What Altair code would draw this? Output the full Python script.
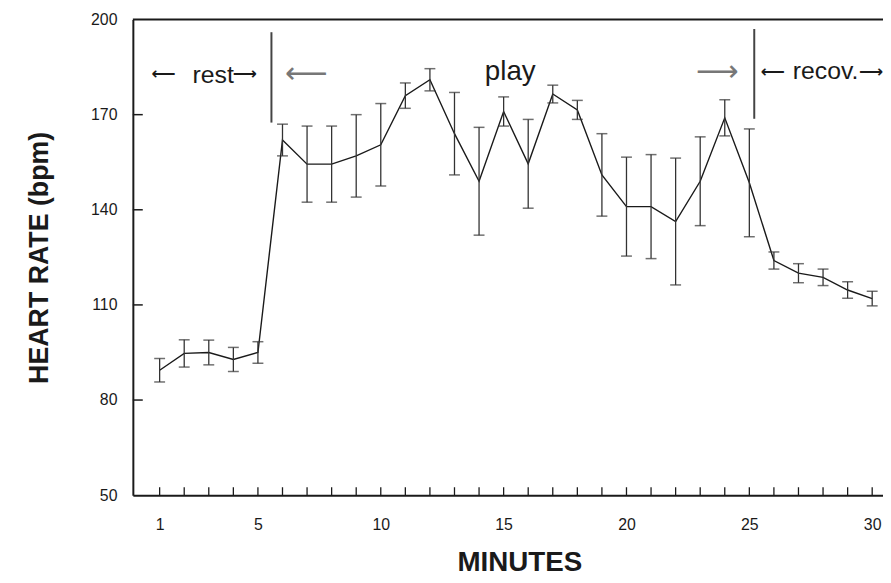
import altair as alt
import pandas as pd

# ---- data ----
minutes = list(range(1, 31))
heart_rate = [89.4, 94.7, 95.0, 92.8, 95.0,
              162.0, 154.4, 154.4, 157.0, 160.5,
              176.0, 181.0, 164.0, 149.0, 171.0,
              154.5, 176.5, 171.5, 151.0, 141.0,
              141.0, 136.3, 149.0, 169.0, 148.5,
              124.0, 120.0, 118.7, 114.7, 112.0]
error = [3.7, 4.3, 3.9, 3.8, 3.4,
         5.0, 12.0, 12.0, 13.0, 13.0,
         4.0, 3.5, 13.0, 17.0, 4.6,
         14.0, 2.8, 3.0, 13.0, 15.6,
         16.4, 20.0, 14.0, 5.7, 17.0,
         2.7, 3.0, 2.6, 2.6, 2.3]
x_labels = [1, 5, 10, 15, 20, 25, 30]
y_ticks = [50, 80, 110, 140, 170, 200]

df = pd.DataFrame({"minute": minutes, "hr": heart_rate, "err": error})
df["lo"] = df["hr"] - df["err"]
df["hi"] = df["hr"] + df["err"]

FONT = "Liberation Sans"
INK = "#1a1a1a"

xscale = alt.Scale(domain=[-0.09, 30.44], nice=False, zero=False)
yscale = alt.Scale(domain=[50, 200], nice=False, zero=False)

base = alt.Chart(df)

line = base.mark_line(color=INK, strokeWidth=1.4).encode(
    x=alt.X("minute:Q", scale=xscale,
            axis=alt.Axis(values=x_labels, ticks=False, grid=False, domain=True,
                          domainColor=INK, domainWidth=2, labelFontSize=16,
                          labelFont=FONT, labelColor=INK, labelPadding=22,
                          labelFlush=False,
                          title="MINUTES", titleFont=FONT, titleFontSize=28,
                          titleFontWeight="bold", titleColor=INK, titlePadding=16,
                          titleX=390)),
    y=alt.Y("hr:Q", scale=yscale,
            axis=alt.Axis(values=y_ticks, ticks=False, grid=False, domain=True,
                          domainColor=INK, domainWidth=2, labelFontSize=16,
                          labelFont=FONT, labelColor=INK, labelPadding=16,
                          labelFlush=False,
                          title="HEART RATE (bpm)", titleFont=FONT, titleFontSize=27,
                          titleFontWeight="bold", titleColor=INK, titlePadding=37)),
)

bars = base.mark_rule(color="#333333", strokeWidth=1.3).encode(
    x="minute:Q", y="lo:Q", y2="hi:Q")
caps_lo = base.mark_tick(color="#333333", orient="horizontal", size=11, thickness=1.5).encode(
    x="minute:Q", y="lo:Q")
caps_hi = base.mark_tick(color="#333333", orient="horizontal", size=11, thickness=1.5).encode(
    x="minute:Q", y="hi:Q")

# frame top line
top_rule = alt.Chart(pd.DataFrame({"v": [200]})).mark_rule(color=INK, strokeWidth=2).encode(
    y="v:Q")

# inward ticks on the left axis
ytick_df = pd.DataFrame({"v": y_ticks[1:-1]})
yticks = alt.Chart(ytick_df).mark_rule(color=INK, strokeWidth=1.5).encode(
    y="v:Q", x=alt.value(0), x2=alt.value(10))

# inward ticks on the bottom axis
xtick_df = pd.DataFrame({"m": minutes})
xticks = alt.Chart(xtick_df).mark_rule(color=INK, strokeWidth=1.3).encode(
    x="m:Q", y=alt.value(480), y2=alt.value(472))

# phase separators
sep_df = pd.DataFrame({"m": [5.55, 25.2], "y1": [167.5, 168.7], "y2": [196.0, 197.0]})
seps = alt.Chart(sep_df).mark_rule(color="#444444", strokeWidth=2).encode(
    x="m:Q", y="y1:Q", y2="y2:Q")

# annotation words
words = pd.DataFrame({
    "m": [3.18, 15.27, 26.77],
    "v": [180.0, 181.0, 181.3],
    "t": ["rest", "play", "recov."],
})
t_rest = alt.Chart(words.iloc[[0]]).mark_text(
    font=FONT, fontSize=25, color=INK, align="center", baseline="alphabetic").encode(
    x="m:Q", y="v:Q", text="t:N")
t_play = alt.Chart(words.iloc[[1]]).mark_text(
    font=FONT, fontSize=28, color=INK, align="center", baseline="alphabetic").encode(
    x="m:Q", y="v:Q", text="t:N")
t_recov = alt.Chart(words.iloc[[2]]).mark_text(
    font=FONT, fontSize=25, color=INK, align="left", baseline="alphabetic").encode(
    x="m:Q", y="v:Q", text="t:N")

# small black arrows around the words
arrows = pd.DataFrame({
    "m": [1.16, 4.47, 25.96, 29.95],
    "v": [182.8, 182.8, 183.4, 183.4],
    "t": ["⟵", "⟶", "⟵", "⟶"],
})
t_arrows = alt.Chart(arrows).mark_text(
    font="DejaVu Sans", fontSize=17, fontWeight="bold", color=INK,
    align="center", baseline="middle").encode(
    x="m:Q", y="v:Q", text="t:N")

# long gray arrows
ann_gray = pd.DataFrame({"m": [6.97, 23.7], "v": [182.8, 183.4], "t": ["⟵", "⟶"]})
t_gray = alt.Chart(ann_gray).mark_text(
    font="DejaVu Sans", fontSize=30, color="#777777", align="center", baseline="middle").encode(
    x="m:Q", y="v:Q", text="t:N")

chart = alt.layer(
    line, bars, caps_lo, caps_hi, top_rule, yticks, xticks, seps,
    t_rest, t_play, t_recov, t_arrows, t_gray
).properties(
    width=757, height=480,
    autosize=alt.AutoSizeParams(type="none"),
    padding={"left": 126, "top": 9, "right": 0, "bottom": 86},
    background="white",
).configure_view(stroke=None)

chart.save("out.html", embed_options={"renderer": "svg", "actions": False})
